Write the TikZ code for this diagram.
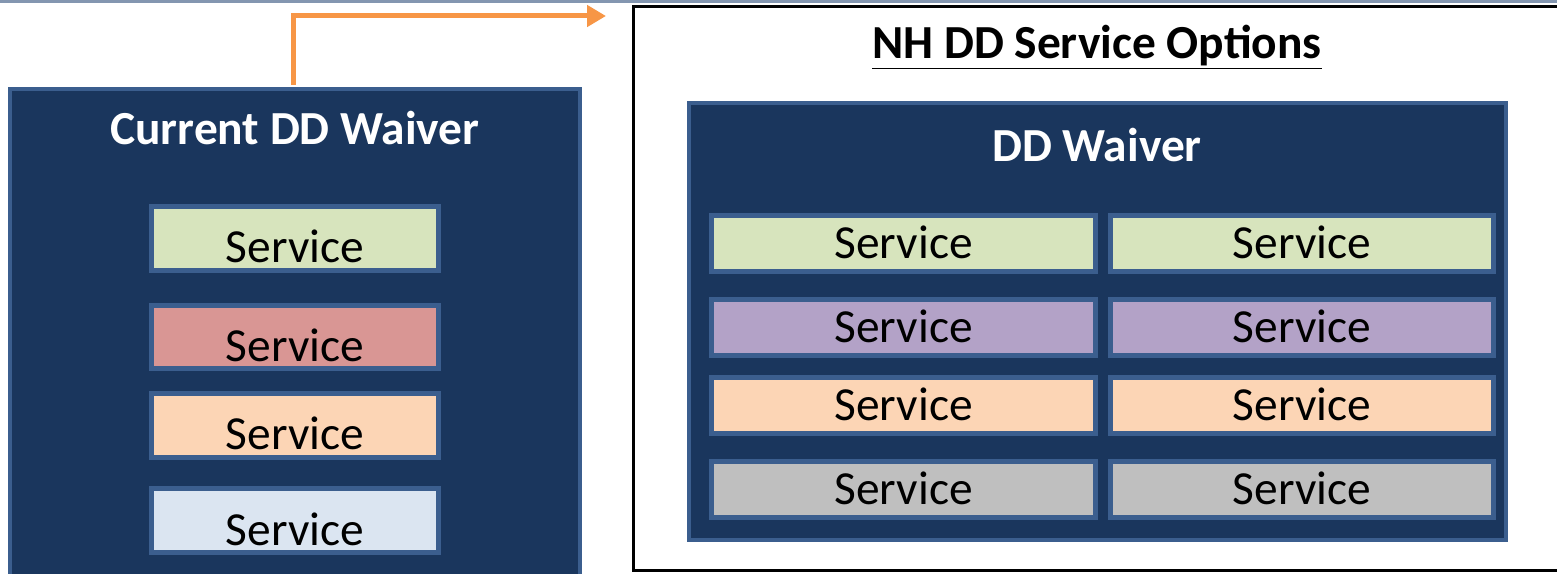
\documentclass[tikz,border=0pt]{standalone}
\usepackage{fontspec}
\setmainfont{Carlito}
\usetikzlibrary{arrows.meta}

\definecolor{navy}{HTML}{1A365D}
\definecolor{edge}{HTML}{3B5E8E}
\definecolor{topline}{HTML}{8396B0}
\definecolor{arrowc}{HTML}{F79646}
\definecolor{svgreen}{HTML}{D7E4BD}
\definecolor{svred}{HTML}{D99694}
\definecolor{svpeach}{HTML}{FCD5B5}
\definecolor{svblue}{HTML}{DBE5F1}
\definecolor{svpurple}{HTML}{B3A2C7}
\definecolor{svgray}{HTML}{BFBFBF}

\tikzset{
	waiver/.style={draw=edge, fill=navy, line width=0.08cm},
	heading/.style={text=white, font=\fontsize{27}{32}\selectfont\bfseries},
	svcleft/.style={draw=edge, line width=0.1cm, inner sep=0pt,
		minimum width=5.74cm, minimum height=1.28cm,
		text height=0.98cm, text depth=0cm, font=\fontsize{27}{32}\selectfont},
	svcright/.style={draw=edge, line width=0.1cm, inner sep=0pt,
		minimum width=7.68cm, minimum height=1.12cm,
		text height=0.6cm, text depth=0cm, font=\fontsize{27}{32}\selectfont},
}

\begin{document}
\begin{tikzpicture}[x=0.02cm, y=-0.02cm]
	\clip (0,0) rectangle (1557,574);
	\fill[white] (0,0) rectangle (1557,574);
	\draw[topline, line width=0.06cm] (0,1.5) -- (1557,1.5);

	% current waiver
	\node[waiver, minimum width=11.4cm, minimum height=10.22cm] (cur) at (295,344.5) {};
	\node[heading]                  (curtitle) at (295,128)   {Current DD Waiver};
	\node[svcleft, fill=svgreen]    (cur1)     at (295,238.5) {Service};
	\node[svcleft, fill=svred]      (cur2)     at (295,337)   {Service};
	\node[svcleft, fill=svpeach]    (cur3)     at (295,425.5) {Service};
	\node[svcleft, fill=svblue]     (cur4)     at (295,520.5) {Service};

	% NH options
	\node[draw=black, line width=0.06cm, minimum width=18.83cm, minimum height=11.29cm] (nh) at (1104.25,288.75) {};
	\node[font=\fontsize{27}{32}\selectfont\bfseries] (nhtitle) at (1097,47) {\underline{NH DD Service Options}};
	\node[waiver, minimum width=16.34cm, minimum height=8.74cm] (dd) at (1097.5,321.5) {};
	\node[heading]                  (ddtitle) at (1097,145)   {DD Waiver};
	\node[svcright, fill=svgreen]   (dd11)    at (903.5,243.5) {Service};
	\node[svcright, fill=svgreen]   (dd12)    at (1302,243.5)  {Service};
	\node[svcright, fill=svpurple]  (dd21)    at (903.5,327.5) {Service};
	\node[svcright, fill=svpurple]  (dd22)    at (1302,327.5)  {Service};
	\node[svcright, fill=svpeach]   (dd31)    at (903.5,405.5) {Service};
	\node[svcright, fill=svpeach]   (dd32)    at (1302,405.5)  {Service};
	\node[svcright, fill=svgray]    (dd41)    at (903.5,489.5) {Service};
	\node[svcright, fill=svgray]    (dd42)    at (1302,489.5)  {Service};

	\coordinate (tip) at (606,16);
	\draw[arrowc, line width=0.1cm, -{Triangle[length=0.38cm, width=0.42cm]}]
		([xshift=-0.04cm, yshift=0.04cm]cur.north) |- (tip);
\end{tikzpicture}
\end{document}
